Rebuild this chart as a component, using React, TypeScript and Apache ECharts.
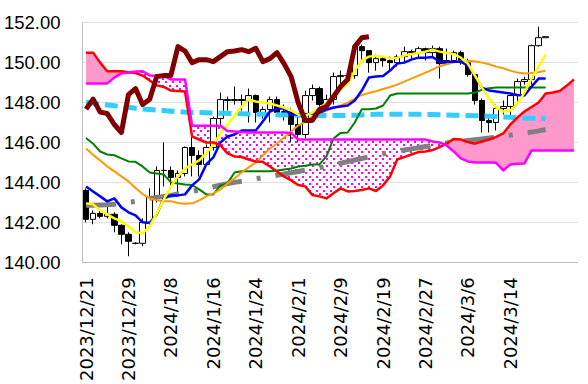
import React, { useEffect, useRef } from "react";
import * as echarts from "echarts";

const categories = [
  "2023/12/21", "2023/12/22", "2023/12/25", "2023/12/26", "2023/12/27", "2023/12/28", "2023/12/29", "2024/1/1", "2024/1/2", "2024/1/3",
  "2024/1/4", "2024/1/5", "2024/1/8", "2024/1/9", "2024/1/10", "2024/1/11", "2024/1/12", "2024/1/15", "2024/1/16", "2024/1/17",
  "2024/1/18", "2024/1/19", "2024/1/22", "2024/1/23", "2024/1/24", "2024/1/25", "2024/1/26", "2024/1/29", "2024/1/30", "2024/1/31",
  "2024/2/1", "2024/2/2", "2024/2/5", "2024/2/6", "2024/2/7", "2024/2/8", "2024/2/9", "2024/2/12", "2024/2/13", "2024/2/14",
  "2024/2/15", "2024/2/16", "2024/2/19", "2024/2/20", "2024/2/21", "2024/2/22", "2024/2/23", "2024/2/26", "2024/2/27", "2024/2/28",
  "2024/2/29", "2024/3/1", "2024/3/4", "2024/3/5", "2024/3/6", "2024/3/7", "2024/3/8", "2024/3/11", "2024/3/12", "2024/3/13",
  "2024/3/14", "2024/3/15", "2024/3/18", "2024/3/19", "2024/3/20", "2024/3/21", "2024/3/22", "2024/3/25", "2024/3/26", "2024/3/27",
];

const opens = [
  143.6, 142.15, 142.45, 142.3, 142.4, 141.85, 141.4, 140.95, 140.95, 142.0,
  143.25, 144.6, 144.6, 144.25, 144.45, 145.75, 145.35, 144.9, 145.75, 147.2,
  148.15, 148.1, 148.15, 148.1, 148.35, 147.5, 147.65, 148.15, 147.5, 147.55,
  146.9, 146.4, 148.35, 148.7, 147.9, 148.15, 149.3, 149.35, 149.35, 150.8,
  150.6, 150.0, 150.2, 150.1, 150.0, 150.3, 150.55, 150.5, 150.7, 150.5,
  150.7, 149.95, 150.1, 150.5, 150.0, 149.4, 148.1, 147.1, 147.0, 147.7,
  147.8, 148.35, 149.05, 149.15, 150.85, 151.25,
];
const closes = [
  142.15, 142.45, 142.3, 142.4, 141.85, 141.4, 141.05, 140.95, 142.0, 143.25,
  144.6, 144.6, 144.25, 144.45, 145.75, 145.35, 144.9, 145.75, 147.2, 148.15,
  148.1, 148.15, 148.1, 148.35, 147.5, 147.65, 148.15, 147.5, 147.55, 146.9,
  146.4, 148.35, 148.7, 147.9, 148.15, 149.3, 149.35, 149.35, 150.8, 150.6,
  150.0, 150.2, 150.1, 150.0, 150.3, 150.55, 150.5, 150.7, 150.5, 150.7,
  149.95, 150.1, 150.5, 150.0, 149.4, 148.1, 147.1, 147.0, 147.7, 147.8,
  148.35, 149.05, 149.15, 150.85, 151.25, 151.3,
];
const highs = [
  143.7, 142.6, 142.6, 142.9, 142.5, 141.9, 141.5, 141.0, 142.2, 143.7,
  144.8, 146.0, 144.8, 144.6, 145.8, 146.4, 145.6, 145.9, 147.3, 148.5,
  148.3, 148.8, 148.4, 148.7, 148.4, 147.8, 148.3, 148.3, 147.9, 147.7,
  147.3, 148.6, 148.9, 148.8, 148.4, 149.5, 149.6, 149.5, 150.9, 150.9,
  150.6, 150.4, 150.3, 150.3, 150.4, 150.8, 150.65, 150.8, 150.75, 150.85,
  150.8, 150.7, 150.6, 150.6, 150.2, 149.4, 148.2, 147.3, 147.9, 148.1,
  148.4, 149.2, 149.3, 150.9, 151.8, 151.3,
];
const lows = [
  142.0, 141.9, 142.2, 142.2, 141.5, 140.9, 140.3, 140.9, 140.8, 141.8,
  143.0, 143.8, 143.7, 143.4, 144.3, 144.3, 144.3, 144.9, 145.6, 146.9,
  147.6, 147.9, 147.6, 147.0, 147.0, 147.2, 147.0, 147.3, 147.1, 146.0,
  146.0, 146.2, 148.1, 147.6, 147.6, 147.9, 148.8, 149.1, 149.2, 150.1,
  149.5, 149.6, 149.8, 149.6, 149.8, 150.0, 150.2, 150.2, 150.1, 150.3,
  149.2, 149.9, 150.0, 149.9, 149.3, 147.9, 146.5, 146.5, 146.6, 147.4,
  147.3, 147.9, 148.9, 148.9, 150.8, 151.25,
];

// 転換線 (blue)
const tenkan = [
  143.79, 143.54, 143.3, 143.05, 143.2, 142.75, 142.5, 142.35, 142.0, 141.97,
  142.4, 143.2, 143.35, 143.35, 143.4, 143.85, 144.15, 144.9, 145.25, 146.0,
  146.3, 146.4, 146.6, 146.6, 146.6, 147.05, 147.55, 147.7, 147.7, 147.4,
  147.4, 147.4, 147.45, 147.5, 147.65, 147.75, 147.8, 147.85, 148.1, 148.6,
  149.25, 149.3, 149.33, 149.6, 149.95, 150.0, 150.15, 150.25, 150.25, 150.28,
  150.05, 150.05, 150.05, 150.05, 149.85, 149.3, 148.75, 148.6, 148.55, 148.5,
  148.45, 148.38, 148.35, 148.8, 149.2, 149.2,
];
// 基準線 (green)
const kijun = [
  146.22, 145.94, 145.55, 145.4, 145.36, 145.2, 145.05, 145.03, 144.8, 144.5,
  144.45, 144.4, 144.0, 143.95, 143.9, 143.87, 143.65, 143.4, 143.4, 143.85,
  143.95, 144.5, 144.56, 144.56, 144.56, 144.56, 144.56, 144.6, 144.65, 144.7,
  144.8, 144.83, 144.9, 144.9, 145.3, 146.2, 146.48, 146.5, 147.0, 147.67,
  147.67, 147.7, 147.85, 148.35, 148.45, 148.45, 148.45, 148.45, 148.45, 148.45,
  148.45, 148.45, 148.45, 148.45, 148.45, 148.5, 148.65, 148.72, 148.75, 148.75,
  148.75, 148.75, 148.75, 148.75, 148.75, 148.75,
];
// 先行スパンA (red)
const senkouA = [
  150.5, 150.5, 150.0, 149.57, 149.57, 149.57, 149.52, 149.48, 149.35, 149.1,
  148.86, 148.78, 148.6, 148.58, 148.55, 146.3, 146.15, 146.0, 146.0, 145.87,
  145.45, 145.3, 145.27, 145.15, 145.05, 145.03, 144.8, 144.55, 144.3, 144.1,
  143.87, 143.8, 143.37, 143.3, 143.2, 143.46, 143.7, 143.55, 143.57, 143.62,
  143.7, 143.57, 143.85, 144.3, 145.15, 145.27, 145.4, 145.52, 145.55, 145.62,
  145.77, 145.95, 146.18, 146.15, 146.02, 145.94, 146.05, 146.15, 146.28, 146.45,
  146.9, 147.25, 147.55, 147.78, 148.0, 148.45, 148.5, 148.58, 148.85, 149.16,
];
// 先行スパンB (magenta)
const senkouB = [
  148.96, 148.96, 148.96, 148.96, 149.25, 149.46, 149.5, 149.55, 149.57, 149.36,
  149.34, 149.32, 149.16, 149.16, 149.16, 146.84, 146.84, 146.84, 146.84, 146.84,
  146.57, 146.55, 146.52, 146.5, 146.5, 146.5, 146.5, 146.5, 146.5, 146.48,
  146.15, 146.15, 146.15, 146.15, 146.15, 146.15, 146.15, 146.15, 146.15, 146.15,
  146.15, 146.15, 146.15, 146.15, 146.15, 146.15, 146.15, 146.15, 146.15, 146.05,
  146.0, 145.85, 145.55, 145.2, 145.05, 145.0, 145.0, 145.0, 144.98, 144.6,
  144.9, 144.94, 144.95, 145.6, 145.6, 145.6, 145.6, 145.6, 145.6, 145.6,
];
// 遅行スパン (maroon)
const chikou = [
  147.67, 148.17, 147.52, 147.45, 146.9, 146.5, 148.4, 148.7, 147.9, 148.17,
  149.3, 149.35, 149.36, 150.8, 150.58, 150.0, 150.15, 150.15, 150.05, 150.3,
  150.55, 150.58, 150.65, 150.55, 150.72, 150.05, 150.2, 150.5, 149.95, 149.3,
  148.0, 147.1, 147.1, 147.65, 147.82, 148.3, 148.8, 149.15, 150.8, 151.25,
  151.3,
];
// yellow (short MA)
const maShort = [
  142.95, 142.9, 142.6, 142.4, 142.2, 142.05, 141.8, 141.5, 141.45, 141.8,
  142.45, 143.15, 143.8, 144.3, 144.7, 144.9, 145.1, 145.45, 145.9, 146.45,
  146.9, 147.35, 147.8, 148.15, 148.05, 148.0, 147.95, 147.85, 147.75, 147.6,
  147.4, 147.35, 147.5, 147.7, 148.0, 148.35, 148.65, 148.95, 149.6, 150.1,
  150.3, 150.35, 150.3, 150.2, 150.25, 150.35, 150.42, 150.48, 150.55, 150.65,
  150.55, 150.48, 150.42, 150.25, 149.95, 149.35, 148.75, 148.2, 147.75, 147.55,
  147.6, 147.95, 148.5, 149.2, 149.8, 150.4,
];
// orange (medium MA)
const maMid = [
  145.7, 145.38, 145.1, 144.8, 144.55, 144.3, 144.05, 143.72, 143.42, 143.2,
  143.1, 143.05, 143.05, 142.97, 142.93, 142.95, 143.1, 143.3, 143.45, 143.65,
  143.95, 144.2, 144.5, 144.75, 145.0, 145.35, 145.7, 145.95, 146.25, 146.55,
  146.85, 147.05, 147.3, 147.45, 147.6, 147.72, 147.85, 148.0, 148.2, 148.38,
  148.48, 148.57, 148.68, 148.78, 148.9, 149.05, 149.2, 149.35, 149.5, 149.65,
  149.82, 149.92, 150.02, 150.07, 150.08, 150.07, 150.0, 149.92, 149.8, 149.72,
  149.6, 149.5, 149.45, 149.48, 149.52, 149.6,
];
// gray dash-dot (long MA)
const maLong = [
  142.85, 142.86, 142.87, 142.88, 142.9, 142.95, 143.0, 143.05, 143.12, 143.2,
  143.25, 143.3, 143.35, 143.42, 143.48, 143.55, 143.62, 143.7, 143.78, 143.86,
  143.94, 144.0, 144.06, 144.12, 144.18, 144.24, 144.3, 144.36, 144.42, 144.48,
  144.55, 144.62, 144.68, 144.74, 144.8, 144.88, 144.96, 145.04, 145.12, 145.2,
  145.28, 145.36, 145.43, 145.5, 145.56, 145.62, 145.68, 145.74, 145.8, 145.86,
  145.92, 145.97, 146.02, 146.06, 146.1, 146.14, 146.18, 146.22, 146.27, 146.32,
  146.37, 146.42, 146.47, 146.52, 146.58, 146.65,
];
// cyan dashed (longest MA)
const maVeryLong = [
  148.02, 147.97, 147.92, 147.88, 147.84, 147.8, 147.76, 147.72, 147.68, 147.65,
  147.62, 147.6, 147.57, 147.55, 147.52, 147.5, 147.5, 147.49, 147.48, 147.47,
  147.46, 147.45, 147.44, 147.43, 147.42, 147.41, 147.4, 147.39, 147.38, 147.37,
  147.37, 147.36, 147.36, 147.35, 147.35, 147.35, 147.35, 147.36, 147.37, 147.38,
  147.4, 147.41, 147.42, 147.42, 147.42, 147.42, 147.42, 147.41, 147.4, 147.4,
  147.39, 147.38, 147.37, 147.36, 147.35, 147.34, 147.33, 147.32, 147.3, 147.28,
  147.26, 147.24, 147.22, 147.21, 147.2, 147.19,
];

const yMin = 140;
const yMax = 152;
const yStep = 2;
const labelEvery = 6;
const lastLabelIndex = 60;

export default function App() {
  const ref = useRef<HTMLDivElement>(null);

  useEffect(() => {
    const el = ref.current;
    if (!el) return;
    const chart = echarts.init(el, undefined, { renderer: "svg" });

    const cloudBase = senkouA.map((a, i) => Math.min(a, senkouB[i]));
    const bullish = senkouA.map((a, i) => Math.max(a - senkouB[i], 0));
    const bearish = senkouA.map((a, i) => Math.max(senkouB[i] - a, 0));
    const candles = opens.map((o, i) => [o, closes[i], lows[i], highs[i]]);

    const cv = document.createElement("canvas");
    cv.width = 7;
    cv.height = 7;
    const ctx = cv.getContext("2d");
    if (ctx) {
      ctx.fillStyle = "#ffffff";
      ctx.fillRect(0, 0, 7, 7);
      ctx.fillStyle = "#FF00FF";
      ctx.fillRect(1, 1, 2, 2);
      ctx.fillRect(4, 4, 2, 2);
    }

    const line = (data: number[], color: string, width: number, z: number, type: any = "solid", extra: any = {}) => ({
      type: "line",
      data,
      symbol: "none",
      showSymbol: false,
      silent: true,
      z,
      lineStyle: { color, width, type, cap: "butt", join: "round" },
      ...extra,
    });

    chart.setOption({
      animation: false,
      backgroundColor: "#ffffff",
      grid: { left: 82.5, right: 10.5, top: 22.7, bottom: 119.3, containLabel: false },
      xAxis: {
        type: "category",
        data: categories,
        boundaryGap: true,
        axisLine: { show: true, lineStyle: { color: "#BFBFBF", width: 1 } },
        axisTick: { show: false },
        axisLabel: {
          rotate: 90,
          margin: 15,
          fontSize: 18,
          fontFamily: "DejaVu Sans",
          color: "#000000",
          interval: (index: number) => index % labelEvery === 0 && index <= lastLabelIndex,
        },
        splitLine: { show: false },
      },
      yAxis: {
        type: "value",
        min: yMin,
        max: yMax,
        interval: yStep,
        axisLine: { show: true, lineStyle: { color: "#BFBFBF", width: 1 } },
        axisTick: { show: false },
        axisLabel: {
          margin: 22,
          fontSize: 18.5,
          fontFamily: "Liberation Sans",
          color: "#000000",
          formatter: (v: number) => v.toFixed(2),
        },
        splitLine: { show: true, lineStyle: { color: "#BFBFBF", type: "dotted", width: 1 } },
      },
      series: [
        line(cloudBase, "rgba(0,0,0,0)", 0, 1, "solid", { stack: "bull" }),
        line(bullish, "rgba(0,0,0,0)", 0, 1, "solid", { stack: "bull", areaStyle: { color: "#FF99CC", opacity: 1 } }),
        line(cloudBase, "rgba(0,0,0,0)", 0, 1, "solid", { stack: "bear" }),
        line(bearish, "rgba(0,0,0,0)", 0, 1, "solid", {
          stack: "bear",
          areaStyle: { color: { image: cv, repeat: "repeat" }, opacity: 1 },
        }),
        {
          type: "candlestick",
          data: candles,
          barWidth: 6,
          silent: true,
          z: 3,
          itemStyle: {
            color: "#ffffff",
            color0: "#000000",
            borderColor: "#000000",
            borderColor0: "#000000",
            borderColorDoji: "#000000",
            borderWidth: 1,
          },
        },
        line(maLong, "#808080", 5, 4, [30, 15, 4, 15]),
        line(maVeryLong, "#33CCFF", 5, 4, [13, 6]),
        line(kijun, "#008000", 2, 5),
        line(maMid, "#FF9900", 2, 5),
        line(tenkan, "#0000FF", 2.5, 5),
        line(maShort, "#FFFF00", 2.5, 5),
        line(senkouA, "#FF0000", 2.5, 5),
        line(senkouB, "#FF00FF", 2.5, 5),
        line(chikou, "#800000", 5, 6),
      ],
    });

    return () => chart.dispose();
  }, []);

  return (
    <div
      ref={ref}
      style={{ position: "fixed", left: 0, top: 0, width: 588, height: 384, background: "#ffffff" }}
    />
  );
}
